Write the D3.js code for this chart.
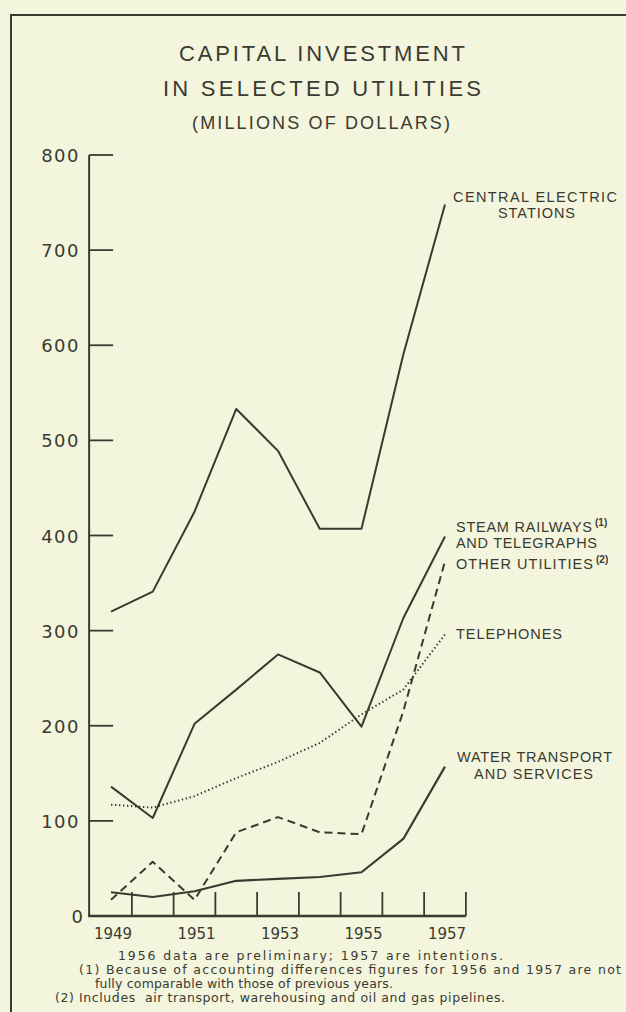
<!DOCTYPE html>
<html><head><meta charset="utf-8">
<script src="https://cdn.jsdelivr.net/npm/d3@7"></script>
<style>html,body{margin:0;padding:0;background:#f3f5dd;} svg{display:block;}</style>
</head><body><svg id="c" width="626" height="1012"></svg>
<script>
// ---- data ----
const years = [1949, 1950, 1951, 1952, 1953, 1954, 1955, 1956, 1957];
const centralElectric = [320, 341, 425, 533, 489, 407, 407, 590, 748];
const steamRailways   = [136, 103, 202, 238, 275, 256, 199, 313, 399];
const telephones      = [117, 114, 126, 145, 162, 182, 212, 238, 296];
const otherUtilities  = [17, 57, 17, 88, 104, 88, 86, 215, 373];
const waterTransport  = [25, 20, 26, 37, 39, 41, 46, 81, 157];
const yTicks = [0, 100, 200, 300, 400, 500, 600, 700, 800];
const yearLabels = [1949, 1951, 1953, 1955, 1957];
const titleLines = ["CAPITAL INVESTMENT", "IN SELECTED UTILITIES", "(MILLIONS OF DOLLARS)"];
const footnotes = [
  "1956 data are preliminary; 1957 are intentions.",
  "(1) Because of accounting differences figures for 1956 and 1957 are not",
  "fully comparable with those of previous years.",
  "(2) Includes  air transport, warehousing and oil and gas pipelines."
];

const ink = "#3a3a31";
const svg = d3.select("#c");
const x = d3.scaleLinear().domain([1949, 1957]).range([111, 445]);
const y = d3.scaleLinear().domain([0, 800]).range([916, 155]);

// frame
svg.append("path").attr("d", "M11,1012 L11,15 L626,15")
  .attr("fill", "none").attr("stroke", ink).attr("stroke-width", 2);

// title
const tAttrs = [
  {cx: 322, base: 61, size: 22, len: 286},
  {cx: 322, base: 96, size: 22, len: 318},
  {cx: 321, base: 129, size: 18, len: 258}
];
titleLines.forEach((t, i) => {
  svg.append("text").text(t)
    .attr("x", tAttrs[i].cx).attr("y", tAttrs[i].base)
    .attr("text-anchor", "middle")
    .attr("font-family", "Liberation Sans, Arial, sans-serif")
    .attr("font-size", tAttrs[i].size)
    .attr("textLength", tAttrs[i].len).attr("lengthAdjust", "spacing")
    .attr("fill", ink);
});

// axes
const x0 = x(1948.5) - 1, x1 = x(1957.5);
svg.append("line").attr("x1", x0).attr("x2", x0).attr("y1", y(800)).attr("y2", y(0))
  .attr("stroke", ink).attr("stroke-width", 2);
svg.append("line").attr("x1", x0 - 1).attr("x2", x1).attr("y1", y(0)).attr("y2", y(0))
  .attr("stroke", ink).attr("stroke-width", 2.5);
svg.selectAll(".yt").data(yTicks.filter(d => d > 0)).enter().append("line")
  .attr("x1", x0).attr("x2", x0 + 24).attr("y1", d => y(d)).attr("y2", d => y(d))
  .attr("stroke", ink).attr("stroke-width", 1.8);
svg.selectAll(".yl").data(yTicks).enter().append("text")
  .text(d => d)
  .attr("x", d => d === 0 ? 83 : 80).attr("y", d => y(d) + 7)
  .attr("text-anchor", "end")
  .attr("font-family", "DejaVu Sans, sans-serif").attr("font-size", 18)
  .attr("letter-spacing", d => d === 0 ? 0 : 1.5)
  .attr("fill", ink);
svg.selectAll(".xt").data(years).enter().append("line")
  .attr("x1", d => x(d + 0.5)).attr("x2", d => x(d + 0.5))
  .attr("y1", y(0)).attr("y2", y(0) - 24)
  .attr("stroke", ink).attr("stroke-width", 1.8);
svg.selectAll(".xl").data(yearLabels).enter().append("text")
  .text(d => d)
  .attr("x", d => x(d) + 2).attr("y", 939)
  .attr("text-anchor", "middle")
  .attr("font-family", "DejaVu Sans, sans-serif").attr("font-size", 15)
  .attr("fill", ink);

// series
const series = [
  {vals: centralElectric, dash: null, w: 2},
  {vals: steamRailways, dash: null, w: 2},
  {vals: telephones, dash: "1.4,2.6", w: 2},
  {vals: otherUtilities, dash: "8,5", w: 2},
  {vals: waterTransport, dash: null, w: 2.2}
];
const line = d3.line().x((d, i) => x(years[i])).y(d => y(d));
series.forEach(s => {
  svg.append("path").datum(s.vals).attr("d", line)
    .attr("fill", "none").attr("stroke", ink).attr("stroke-width", s.w)
    .attr("stroke-linejoin", "round")
    .attr("stroke-dasharray", s.dash);
});

// series labels
const labels = [
  {t: "CENTRAL ELECTRIC", x: 453, y: 202, len: 164},
  {t: "STATIONS", x: 498, y: 218, len: 77},
  {t: "STEAM RAILWAYS", x: 456, y: 532, len: 136},
  {t: "AND TELEGRAPHS", x: 456, y: 548, len: 141},
  {t: "OTHER UTILITIES", x: 456, y: 569, len: 137},
  {t: "TELEPHONES", x: 456, y: 639, len: 106},
  {t: "WATER TRANSPORT", x: 457, y: 762, len: 155},
  {t: "AND SERVICES", x: 474, y: 779, len: 119}
];
labels.forEach(l => {
  svg.append("text").text(l.t).attr("x", l.x).attr("y", l.y)
    .attr("font-family", "Liberation Sans, Arial, sans-serif").attr("font-size", 14.5)
    .attr("textLength", l.len).attr("lengthAdjust", "spacing")
    .attr("fill", ink);
});
[{t: "(1)", x: 595, y: 526}, {t: "(2)", x: 596, y: 563}].forEach(l => {
  svg.append("text").text(l.t).attr("x", l.x).attr("y", l.y)
    .attr("font-family", "Liberation Sans, Arial, sans-serif").attr("font-size", 10)
    .attr("font-weight", "bold").attr("fill", ink);
});

// footnotes
const fAttrs = [
  {x: 118, y: 960, len: 385},
  {x: 79, y: 974, len: 542},
  {x: 95, y: 988, len: 298},
  {x: 55, y: 1002, len: 450}
];
footnotes.forEach((t, i) => {
  svg.append("text").text(t).attr("x", fAttrs[i].x).attr("y", fAttrs[i].y)
    .attr("font-family", "DejaVu Sans, sans-serif").attr("font-size", 12.5)
    .attr("textLength", fAttrs[i].len).attr("lengthAdjust", "spacing")
    .attr("xml:space", "preserve")
    .attr("fill", ink);
});
</script></body></html>
